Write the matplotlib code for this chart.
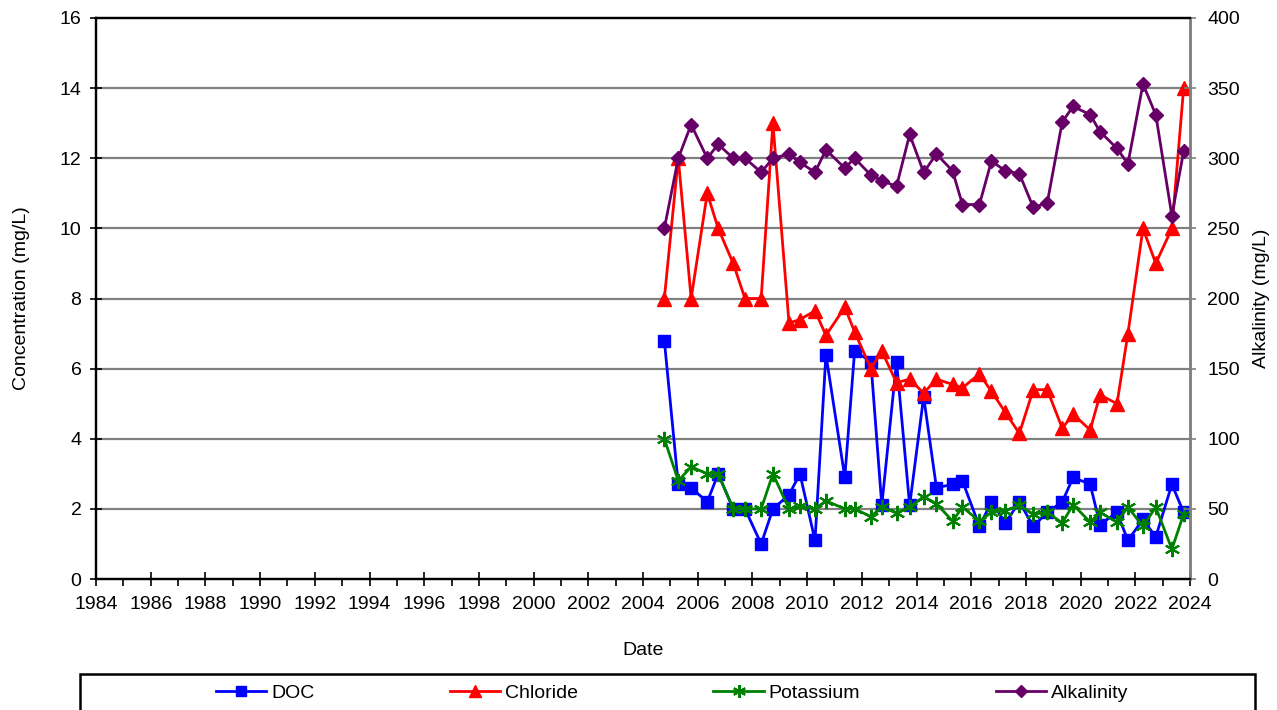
import pandas as pd
import matplotlib
matplotlib.use("Agg")
import matplotlib.pyplot as plt
import matplotlib.dates as mdates
from matplotlib.patches import Rectangle
from datetime import datetime

plt.rcParams["font.family"] = ["Liberation Sans", "DejaVu Sans"]

# sampling dates (spring / fall)
dates = [
    "2004-10-12", "2005-04-16", "2005-10-05", "2006-05-08", "2006-10-01",
    "2007-04-20", "2007-09-24", "2008-04-27", "2008-10-01", "2009-05-04",
    "2009-09-27", "2010-04-16", "2010-09-09", "2011-05-19", "2011-09-27",
    "2012-05-01", "2012-09-24", "2013-04-09", "2013-10-01", "2014-04-06",
    "2014-09-24", "2015-04-27", "2015-09-06", "2016-04-20", "2016-09-27",
    "2017-04-02", "2017-10-05", "2018-04-09", "2018-10-12", "2019-05-01",
    "2019-09-24", "2020-05-08", "2020-09-16", "2021-05-01", "2021-09-24",
    "2022-04-13", "2022-10-01", "2023-05-04", "2023-10-08",
]

doc = [6.8, 2.7, 2.6, 2.2, 3.0, 2.0, 2.0, 1.0, 2.0, 2.4,
       3.0, 1.1, 6.4, 2.9, 6.5, 6.2, 2.1, 6.2, 2.1, 5.2,
       2.6, 2.7, 2.8, 1.5, 2.2, 1.6, 2.2, 1.5, 1.9, 2.2,
       2.9, 2.7, 1.55, 1.9, 1.1, 1.7, 1.2, 2.7, 1.9]

chloride = [8.0, 12.0, 8.0, 11.0, 10.0, 9.0, 8.0, 8.0, 13.0, 7.3,
            7.4, 7.65, 6.95, 7.75, 7.05, 6.0, 6.5, 5.6, 5.7, 5.3,
            5.7, 5.55, 5.45, 5.85, 5.35, 4.75, 4.15, 5.4, 5.4, 4.3,
            4.7, 4.25, 5.25, 5.0, 7.0, 10.0, 9.0, 10.0, 14.0]

potassium = [4.0, 2.8, 3.2, 3.0, 3.0, 2.0, 2.0, 2.0, 3.0, 2.0,
             2.08, 2.0, 2.23, 2.0, 2.0, 1.78, 2.05, 1.88, 2.05, 2.35,
             2.15, 1.65, 2.05, 1.65, 1.9, 1.95, 2.1, 1.85, 1.9, 1.6,
             2.12, 1.62, 1.9, 1.62, 2.05, 1.5, 2.05, 0.85, 1.85]

alkalinity = [250, 300, 324, 300, 310, 300, 300, 290, 300, 303,
              297, 290, 306, 293, 300, 288, 284, 280, 317, 290,
              303, 291, 267, 267, 298, 291, 289, 265, 268, 326,
              337, 331, 319, 307, 296, 353, 331, 259, 305]

x = pd.to_datetime(dates)
FS = 14

fig = plt.figure(figsize=(12.77, 7.10), dpi=100)
ax = fig.add_axes([96 / 1277, 1 - 579 / 710, (1190 - 96) / 1277, (579 - 18) / 710])
ax2 = ax.twinx()

# left axis
ax.set_ylim(0, 16)
ax.set_yticks(range(0, 17, 2))
ax.set_xlim(datetime(1984, 1, 1), datetime(2024, 1, 1))
ax.xaxis.set_major_locator(mdates.YearLocator(2))
ax.xaxis.set_minor_locator(mdates.YearLocator(1))
ax.xaxis.set_major_formatter(mdates.DateFormatter("%Y"))
for yv in range(2, 16, 2):
    ax.axhline(yv, color="#808080", lw=1.6, zorder=0)

ax.plot(x, doc, color="#0000FF", lw=2, marker="s", ms=9, label="DOC", zorder=3)
ax.plot(x, chloride, color="#FF0000", lw=2, marker="^", ms=10, label="Chloride", zorder=4)
ax.plot(x, potassium, color="#008000", lw=2, marker=(6, 2, 0), ms=11, mew=1.5,
        label="Potassium", zorder=5)

# right axis
ax2.set_ylim(0, 400)
ax2.set_yticks(range(0, 401, 50))
ax2.plot(x, alkalinity, color="#660066", lw=2, marker="D", ms=7, label="Alkalinity")

for a in (ax, ax2):
    a.spines["top"].set_linewidth(1.6)
    a.spines["left"].set_linewidth(1.6)
    a.spines["bottom"].set_linewidth(1.6)
    a.spines["right"].set_linewidth(1.8)
    a.spines["right"].set_color("#808080")
    a.tick_params(labelsize=FS)
ax.tick_params(axis="y", direction="inout", length=9, width=1.2, pad=6)
ax2.tick_params(axis="y", direction="inout", length=9, width=1.2, pad=8, color="#808080")
ax.tick_params(axis="x", which="major", direction="inout", length=10, width=1.2, pad=7)
ax.tick_params(axis="x", which="minor", direction="out", length=5, width=1.2)

ax.set_xlabel("Date", fontsize=FS, labelpad=21)
fig.text(22 / 1277, 1 - 298.5 / 710, "Concentration (mg/L)", rotation=90,
         ha="center", va="center", fontsize=FS)
fig.text(1262 / 1277, 1 - 298.5 / 710, "Alkalinity (mg/L)", rotation=90,
         ha="center", va="center", fontsize=FS)

# legend box at the bottom
fig.patches.append(Rectangle((80 / 1277, -0.05), (1255 - 80) / 1277, 0.05 + 1 - 674 / 710,
                             transform=fig.transFigure, fill=False, ec="black", lw=1.8))
h1, l1 = ax.get_legend_handles_labels()
h2, l2 = ax2.get_legend_handles_labels()
fig.legend(h1 + h2, l1 + l2, loc="center", bbox_to_anchor=(672 / 1277, 1 - 693 / 710),
           ncol=4, frameon=False, fontsize=FS, handlelength=2.6, handletextpad=0.26,
           columnspacing=6.95, markerscale=0.85)

fig.savefig("out.png", dpi=100)
